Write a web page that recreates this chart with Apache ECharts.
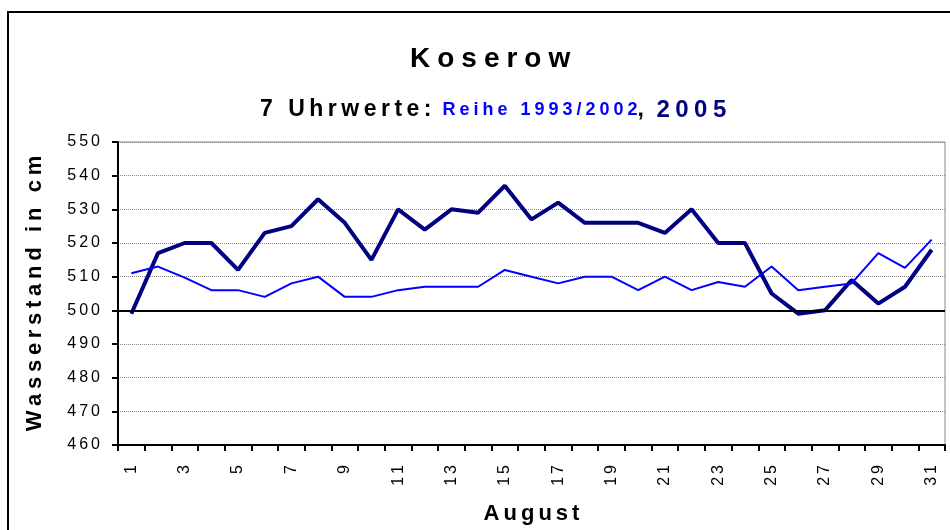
<!DOCTYPE html>
<html>
<head>
<meta charset="utf-8">
<script src="https://cdn.jsdelivr.net/npm/echarts@6/dist/echarts.min.js"></script>
<style>
  html, body { margin: 0; padding: 0; background: #fff; }
  #mainBox { width: 950px; height: 530px; }
</style>
</head>
<body>
<div id="mainBox"></div>
<script>
// Tage im August
var days = [];
for (var d = 1; d <= 31; d++) days.push(String(d));

// 7-Uhr-Werte 2005 (cm)
var werte2005 = [499, 517, 520, 520, 512, 523, 525, 533, 526, 515,
                 530, 524, 530, 529, 537, 527, 532, 526, 526, 526,
                 523, 530, 520, 520, 505, 499, 500, 509, 502, 507, 518];

// Reihe 1993/2002 (cm)
var reihe = [511, 513, 509.7, 506, 506, 504, 508, 510, 504, 504,
             506, 507, 507, 507, 512, 510, 508, 510, 510, 506,
             510, 506, 508.4, 507, 513, 506, 507, 508, 517, 512.6, 521];

var font = 'Liberation Sans, Arial, sans-serif';

// Sperrschrift: jedes Zeichen als eigenes rich-Token mit Abstand rechts
function spaced(str, st) {
    var chars = str.split('');
    return chars.map(function (c, i) {
        return '{' + (i < chars.length - 1 ? st : st + '0') + '|' + c + '}';
    }).join('');
}
function richPair(name, size, weight, color, gap) {
    var r = {};
    r[name] = { fontFamily: font, fontSize: size, fontWeight: weight, color: color, padding: [0, gap, 0, 0] };
    r[name + '0'] = { fontFamily: font, fontSize: size, fontWeight: weight, color: color };
    return r;
}
function merge() {
    var o = {};
    for (var i = 0; i < arguments.length; i++) for (var k in arguments[i]) o[k] = arguments[i][k];
    return o;
}

var myChart = echarts.init(document.getElementById('mainBox'));

var option = {
    animation: false,
    backgroundColor: '#fff',
    title: [
        {
            text: spaced('Koserow', 'k'),
            left: 405,
            top: 40,
            textStyle: { rich: richPair('k', 28, 'bold', '#000', 7) }
        },
        {
            text: spaced('7 Uhrwerte: ', 'a') + spaced('Reihe 1993/2002', 'b') + '{a|,}{s|}' + spaced('2005', 'c'),
            left: 255,
            top: 93,
            textStyle: {
                rich: merge(
                    richPair('a', 23, 'bold', '#000', 4.5),
                    richPair('b', 18, 'bold', '#0000ff', 4),
                    richPair('c', 24, 'bold', '#000080', 5.5),
                    { s: { padding: [0, 8, 0, 0] } }
                )
            }
        }
    ],
    graphic: [
        {
            type: 'rect',
            shape: { x: 8, y: 12, width: 960, height: 540 },
            style: { fill: 'none', stroke: '#000', lineWidth: 2 },
            silent: true
        }
    ],
    grid: {
        left: 118, right: 5, top: 142, bottom: 83,
        show: true, borderColor: '#888', borderWidth: 1
    },
    xAxis: {
        type: 'category',
        data: days,
        boundaryGap: true,
        name: spaced('August', 'n'),
        nameLocation: 'middle',
        nameGap: 58,
        nameTextStyle: { rich: richPair('n', 22, 'bold', '#000', 4) },
        axisLine: { lineStyle: { color: '#000', width: 2 } },
        axisTick: { show: true, interval: 0, length: 6, lineStyle: { color: '#000', width: 2 } },
        axisLabel: {
            interval: 1, rotate: 90, margin: 20,
            formatter: function (v) { return spaced(v, 'x'); },
            rich: richPair('x', 16, 'normal', '#000', 3)
        }
    },
    yAxis: {
        type: 'value',
        min: 460, max: 550, interval: 10,
        name: spaced('Wasserstand in cm', 'n'),
        nameLocation: 'middle',
        nameGap: 72,
        nameTextStyle: { rich: richPair('n', 22, 'bold', '#000', 4.7) },
        axisLine: { show: true, lineStyle: { color: '#000', width: 2 } },
        axisTick: { show: true, length: 6, lineStyle: { color: '#000', width: 2 } },
        axisLabel: {
            margin: 18,
            formatter: function (v) { return spaced(String(v), 'y'); },
            rich: richPair('y', 16, 'normal', '#000', 3)
        },
        splitLine: { show: true, lineStyle: { color: '#888', type: 'dotted', width: 1 } }
    },
    series: [
        {
            name: '2005',
            type: 'line',
            data: werte2005,
            symbol: 'none',
            lineStyle: { color: '#000080', width: 4 },
            itemStyle: { color: '#000080' },
            z: 3,
            markLine: {
                silent: true,
                symbol: 'none',
                label: { show: false },
                lineStyle: { color: '#000', width: 2, type: 'solid' },
                data: [{ yAxis: 500 }]
            }
        },
        {
            name: 'Reihe 1993/2002',
            type: 'line',
            data: reihe,
            symbol: 'none',
            lineStyle: { color: '#0000ff', width: 2 },
            itemStyle: { color: '#0000ff' },
            z: 4
        }
    ]
};

myChart.setOption(option);
</script>
</body>
</html>
